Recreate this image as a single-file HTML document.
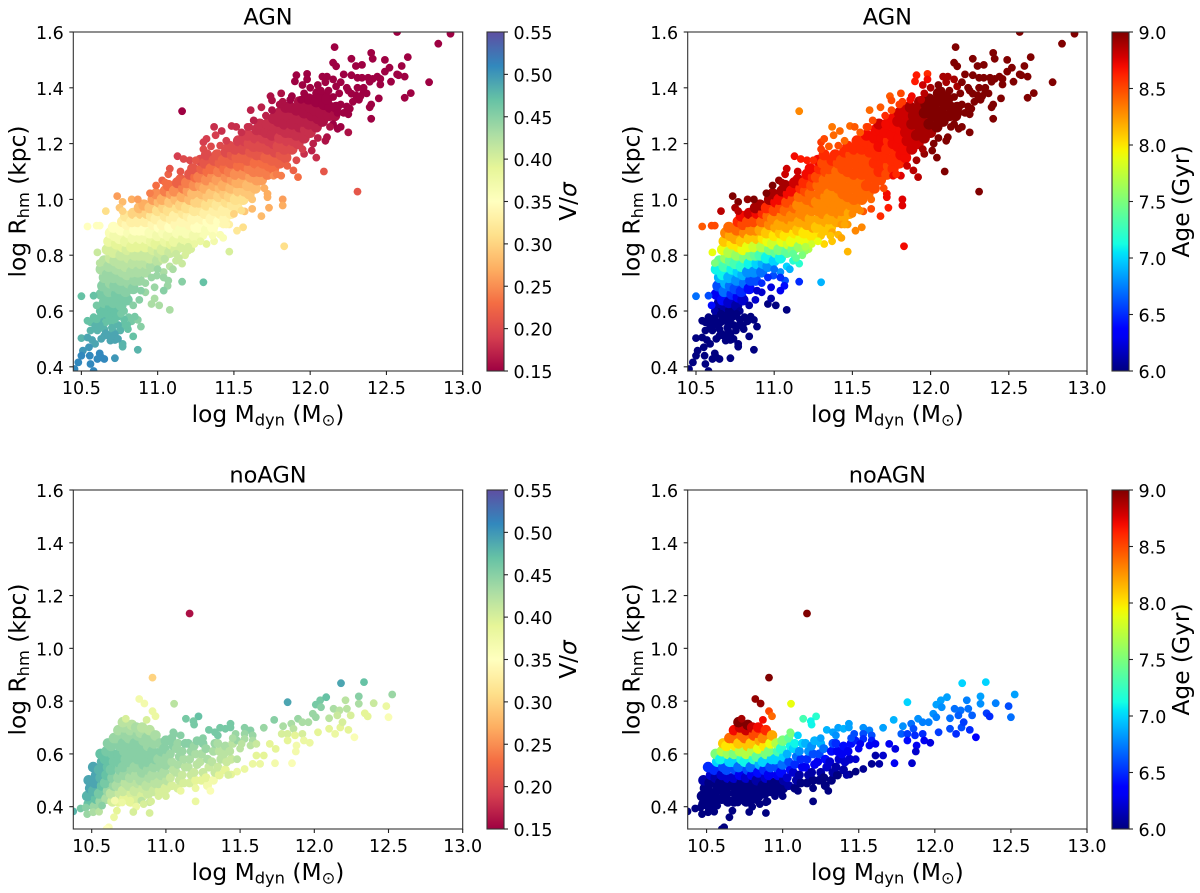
<!DOCTYPE html>
<html>
<head>
<meta charset="utf-8">
<title>AGN and noAGN size-mass scatter panels</title>
<style>
html,body{margin:0;padding:0;background:#fff;}
svg{display:block;}
text{font-family:"DejaVu Sans","Liberation Sans",sans-serif;fill:#000;}
</style>
</head>
<body>
<svg id="figure" width="1200" height="893" viewBox="0 0 1200 893" xmlns="http://www.w3.org/2000/svg"></svg>
<script>
const xTicks = [10.5, 11.0, 11.5, 12.0, 12.5, 13.0];
const yTicks = [0.4, 0.6, 0.8, 1.0, 1.2, 1.4, 1.6];
const vsigTicks = [0.15, 0.20, 0.25, 0.30, 0.35, 0.40, 0.45, 0.50, 0.55];
const ageTicks = [6.0, 6.5, 7.0, 7.5, 8.0, 8.5, 9.0];

const agnMass = [
10.64,10.65,10.63,10.64,10.65,10.63,10.65,
10.68,10.69,10.67,10.68,10.69,10.67,10.68,10.69,10.67,10.68,10.69,
10.72,10.71,10.73,10.72,10.71,10.73,10.72,10.71,10.73,10.72,10.71,
10.76,10.77,10.75,10.76,10.77,10.75,10.76,10.77,10.75,10.76,10.77,
10.80,10.79,10.81,10.80,10.79,10.81,10.80,10.79,10.81,10.80,10.79,
10.84,10.85,10.83,10.84,10.85,10.83,10.84,10.85,10.83,10.84,
10.88,10.87,10.89,10.88,10.87,10.89,10.88,10.87,10.89,10.88,
10.92,10.93,10.91,10.92,10.93,10.91,10.92,10.93,10.91,
10.96,10.95,10.97,10.96,10.95,10.97,10.96,10.95,10.97,
11.00,11.01,10.99,11.00,11.01,10.99,11.00,11.01,10.99,
11.04,11.03,11.05,11.04,11.03,11.05,11.04,11.03,11.05,
11.08,11.09,11.07,11.08,11.09,11.07,11.08,11.09,11.07,
11.12,11.11,11.13,11.12,11.11,11.13,11.12,11.11,11.13,
11.16,11.17,11.15,11.16,11.17,11.15,11.16,11.17,11.15,
11.20,11.19,11.21,11.20,11.19,11.21,11.20,11.19,11.21,
11.24,11.25,11.23,11.24,11.25,11.23,11.24,11.25,11.23,
11.28,11.27,11.29,11.28,11.27,11.29,11.28,11.27,11.29,11.28,
11.32,11.33,11.31,11.32,11.33,11.31,11.32,11.33,11.31,11.32,
11.36,11.35,11.37,11.36,11.35,11.37,11.36,11.35,11.37,
11.40,11.41,11.39,11.40,11.41,11.39,11.40,11.41,11.39,
11.44,11.43,11.45,11.44,11.43,11.45,11.44,11.43,11.45,
11.48,11.49,11.47,11.48,11.49,11.47,11.48,11.49,11.47,
11.52,11.51,11.53,11.52,11.51,11.53,11.52,11.51,11.53,
11.56,11.57,11.55,11.56,11.57,11.55,11.56,11.57,
11.60,11.59,11.61,11.60,11.59,11.61,11.60,11.59,
11.64,11.65,11.63,11.64,11.65,11.63,11.64,11.65,
11.68,11.67,11.69,11.68,11.67,11.69,11.68,11.67,
11.72,11.73,11.71,11.72,11.73,11.71,11.72,
11.76,11.75,11.77,11.76,11.75,11.77,11.76,
11.80,11.81,11.79,11.80,11.81,11.79,11.80,
11.84,11.83,11.85,11.84,11.83,11.85,11.84,
11.88,11.89,11.87,11.88,11.89,11.87,
11.92,11.91,11.93,11.92,11.91,11.93,
11.96,11.97,11.95,11.96,11.97,
12.00,11.99,12.01,12.00,11.99,
12.04,12.05,12.03,12.04,12.05,
12.08,12.07,12.09,12.08,
12.12,12.13,12.11,
12.16,12.17,
12.57,12.92,12.84,12.16,12.27,12.40,12.41,12.49,12.64,12.15,
12.17,12.30,12.34,12.49,12.52,12.60,12.57,12.53,12.58,12.62,
12.78,12.66,12.62,12.45,12.22,12.27,12.31,12.34,12.38,12.41,
12.44,12.46,12.46,12.39,12.35,12.35,12.30,12.25,12.27,12.32,
12.40,12.39,12.40,12.33,12.24,12.17,12.15,12.11,12.08,12.10,
11.98,11.91,11.90,11.98,11.95,11.81,11.74,11.75,11.82,11.61,
11.68,11.16,11.87,11.94,11.96,12.07,12.15,12.19,12.24,12.26,
12.25,12.20,12.25,12.15,12.18,12.11,12.10,12.02,12.01,12.04,
11.96,12.09,12.31,11.92,11.89,11.91,11.81,11.76,11.82,11.82,
11.73,11.68,11.72,11.72,11.62,11.57,11.56,11.52,11.50,11.47,
11.43,11.37,11.41,11.43,11.37,11.32,11.47,11.83,11.30,11.22,
11.20,11.16,11.12,11.16,11.30,11.07,11.065,11.04,11.08,11.01,
10.96,10.98,10.98,10.92,10.89,10.995,11.045,10.50,10.58,10.58,
10.54,10.56,10.62,10.68,10.59,10.64,10.605,10.65,10.705,10.77,
10.81,10.83,10.87,10.89,10.755,10.805,10.68,10.72,10.50,10.54,
10.57,10.59,10.65,10.69,10.72,10.77,10.77,10.84,10.87,10.55,
10.51,10.50,10.48,10.555,10.56,10.62,10.605,10.65,10.72,10.455,
10.58,10.63,10.605,10.62,10.54,10.60,10.62,10.66,10.735,10.77,
10.75,10.77,10.83,10.87,10.95,10.99,11.03,11.07,11.08,11.13,
11.17,11.21,11.30,11.32,11.30,11.37,11.38,11.42,11.485,11.515,
11.59,11.41,11.63,11.71,10.62,10.60,10.66,10.70,10.74,10.78,
10.84,10.88,10.92,10.96,11.04,11.08,11.12,11.18,11.24,11.28,
10.62,10.66,10.70,10.74,10.78,10.80,10.85,10.60,10.66,10.72,
10.76,10.70,10.63,10.74,10.56,11.00,11.04,11.10,11.20,11.14,
11.36,11.45,11.55,11.62,11.70,11.78,11.85,11.95,12.05,12.13,
12.12,12.20,12.22,12.18,12.05,12.00,12.20,12.28,12.31,12.37,
11.60,11.55,11.75,11.80,11.88,11.45,11.35,11.25,11.15,11.05
];
const agnRadius = [
.60,.63,.66,.69,.72,.75,.78,
.58,.61,.64,.67,.70,.73,.76,.79,.82,.85,.88,
.60,.63,.66,.69,.72,.75,.78,.81,.84,.87,.90,
.62,.65,.68,.71,.74,.77,.80,.83,.86,.89,.92,
.64,.67,.70,.73,.76,.79,.82,.85,.88,.91,.94,
.68,.71,.74,.77,.80,.83,.86,.89,.92,.95,
.71,.74,.77,.80,.83,.86,.89,.92,.95,.97,
.74,.77,.80,.83,.86,.89,.92,.95,.98,
.76,.79,.82,.85,.88,.91,.94,.97,1.00,
.78,.81,.84,.87,.90,.93,.96,.99,1.02,
.79,.82,.85,.88,.91,.94,.97,1.00,1.03,
.81,.84,.87,.90,.93,.96,.99,1.02,1.05,
.82,.85,.88,.91,.94,.97,1.00,1.03,1.06,
.83,.86,.89,.92,.95,.98,1.01,1.04,1.07,
.85,.88,.91,.94,.97,1.00,1.03,1.06,1.09,
.87,.90,.93,.96,.99,1.02,1.05,1.08,1.11,
.87,.90,.93,.96,.99,1.02,1.05,1.08,1.11,1.14,
.89,.92,.95,.98,1.01,1.04,1.07,1.10,1.13,1.16,
.90,.93,.96,.99,1.02,1.05,1.08,1.11,1.14,
.92,.95,.98,1.01,1.04,1.07,1.10,1.13,1.16,
.93,.96,.99,1.02,1.05,1.08,1.11,1.14,1.17,
.95,.98,1.01,1.04,1.07,1.10,1.13,1.16,1.19,
.97,1.00,1.03,1.06,1.09,1.12,1.15,1.18,1.21,
1.00,1.03,1.06,1.09,1.12,1.15,1.18,1.21,
1.02,1.05,1.08,1.11,1.14,1.17,1.20,1.23,
1.04,1.07,1.10,1.13,1.16,1.19,1.22,1.25,
1.07,1.10,1.13,1.16,1.19,1.22,1.25,1.27,
1.09,1.12,1.15,1.18,1.21,1.24,1.27,
1.11,1.14,1.17,1.20,1.23,1.26,1.29,
1.13,1.16,1.19,1.22,1.25,1.28,1.31,
1.15,1.18,1.21,1.24,1.27,1.30,1.33,
1.18,1.21,1.24,1.27,1.30,1.33,
1.20,1.23,1.26,1.29,1.32,1.35,
1.22,1.25,1.28,1.31,1.34,
1.24,1.27,1.30,1.33,1.36,
1.26,1.29,1.32,1.35,1.38,
1.28,1.31,1.34,1.37,
1.30,1.33,1.36,
1.30,1.33,
1.60,1.594,1.558,1.546,1.504,1.525,1.504,1.50,1.51,1.49,
1.477,1.478,1.482,1.458,1.472,1.478,1.448,1.422,1.445,1.44,
1.42,1.381,1.364,1.362,1.448,1.445,1.436,1.436,1.436,1.432,
1.44,1.432,1.412,1.422,1.40,1.385,1.373,1.39,1.379,1.357,
1.34,1.33,1.289,1.37,1.40,1.405,1.43,1.44,1.44,1.42,
1.45,1.445,1.423,1.43,1.41,1.38,1.37,1.355,1.35,1.32,
1.33,1.316,1.357,1.357,1.38,1.39,1.367,1.38,1.333,1.325,
1.305,1.26,1.24,1.27,1.253,1.223,1.21,1.20,1.175,1.15,
1.163,1.10,1.028,1.08,1.104,1.14,1.085,1.085,1.00,.978,
.97,.94,1.008,1.02,.966,.957,.90,.888,.948,.91,
.91,.883,.873,.862,.85,.84,.813,.832,.87,.822,
.816,.77,.805,.705,.703,.709,.69,.673,.604,.62,
.625,.645,.685,.667,.673,.727,.787,.653,.655,.578,
.565,.56,.578,.583,.547,.56,.53,.535,.53,.547,
.578,.563,.568,.544,.53,.535,.511,.517,.503,.505,
.496,.482,.511,.494,.496,.482,.472,.509,.461,.47,
.458,.44,.416,.44,.41,.448,.428,.428,.431,.392,
.385,.434,.81,.772,.903,.906,.906,.958,1.012,.991,
.97,.958,1.0,1.0,1.022,1.05,1.068,1.09,1.11,1.155,
1.145,1.14,1.205,1.217,1.18,1.26,1.23,1.245,1.263,1.26,
1.26,1.193,1.283,1.30,.60,.62,.56,.56,.58,.60,
.62,.64,.70,.72,.74,.76,.78,.80,.84,.85,
.55,.52,.54,.55,.57,.55,.58,.57,.59,.57,
.59,.51,.50,.50,.53,.75,.72,.75,.83,.79,
.87,.91,.96,1.00,1.04,1.09,1.12,1.18,1.22,1.26,
1.39,1.34,1.31,1.31,1.41,1.40,1.42,1.35,1.40,1.38,
1.26,1.24,1.32,1.34,1.37,1.21,1.19,1.14,1.10,1.06
];
const agnVsig = [
.47,.46,.46,.45,.44,.43,.42,
.48,.47,.46,.45,.44,.44,.43,.41,.40,.38,.36,
.47,.46,.46,.45,.44,.43,.42,.40,.39,.37,.35,
.46,.46,.45,.44,.43,.42,.41,.39,.37,.35,.33,
.46,.45,.44,.43,.42,.41,.40,.38,.36,.34,.32,
.45,.44,.43,.42,.41,.39,.37,.35,.33,.30,
.44,.43,.42,.41,.39,.37,.35,.33,.30,.28,
.43,.42,.41,.39,.37,.35,.33,.30,.27,
.43,.41,.40,.38,.36,.34,.32,.29,.26,
.42,.41,.39,.37,.35,.33,.31,.28,.25,
.41,.40,.38,.36,.34,.32,.30,.27,.24,
.41,.39,.37,.35,.33,.31,.29,.26,.23,
.40,.38,.36,.34,.33,.31,.28,.25,.22,
.40,.38,.36,.34,.32,.30,.27,.24,.22,
.38,.36,.34,.33,.31,.28,.26,.24,.21,
.37,.35,.34,.32,.30,.28,.25,.23,.21,
.37,.35,.34,.32,.30,.28,.26,.24,.22,.20,
.36,.35,.33,.31,.29,.27,.25,.23,.21,.20,
.35,.34,.33,.31,.29,.27,.25,.23,.21,
.35,.33,.32,.30,.28,.26,.24,.22,.21,
.34,.33,.31,.29,.27,.25,.23,.22,.20,
.33,.32,.30,.28,.26,.24,.22,.21,.20,
.32,.31,.29,.27,.25,.23,.22,.20,.19,
.31,.29,.27,.25,.23,.22,.20,.19,
.29,.28,.26,.24,.22,.21,.20,.19,
.28,.26,.24,.23,.21,.20,.19,.18,
.26,.24,.23,.21,.20,.19,.18,.18,
.24,.23,.22,.20,.19,.18,.18,
.23,.22,.20,.19,.18,.18,.17,
.22,.21,.20,.19,.18,.17,.17,
.21,.20,.19,.18,.17,.17,.16,
.20,.19,.18,.17,.17,.16,
.19,.18,.17,.17,.16,.16,
.18,.18,.17,.16,.16,
.18,.17,.16,.16,.15,
.17,.16,.16,.15,.15,
.16,.16,.15,.15,
.16,.15,.15,
.16,.15,
.15,.15,.15,.15,.15,.15,.15,.15,.15,.15,
.15,.15,.15,.15,.15,.15,.15,.15,.15,.15,
.15,.15,.15,.15,.15,.15,.15,.15,.15,.15,
.15,.15,.15,.15,.15,.15,.15,.15,.15,.15,
.15,.15,.15,.15,.15,.15,.15,.15,.15,.15,
.15,.15,.15,.15,.15,.16,.16,.16,.16,.17,
.17,.15,.15,.15,.15,.15,.15,.15,.15,.15,
.15,.15,.16,.15,.15,.16,.16,.17,.17,.18,
.18,.21,.21,.23,.22,.20,.24,.25,.26,.27,
.27,.28,.27,.27,.28,.29,.31,.32,.30,.33,
.34,.35,.36,.36,.37,.39,.40,.31,.36,.40,
.40,.41,.41,.45,.47,.44,.44,.45,.43,.43,
.43,.43,.44,.44,.45,.44,.42,.47,.47,.47,
.47,.47,.47,.47,.48,.48,.48,.48,.48,.47,
.46,.46,.45,.45,.48,.47,.49,.49,.48,.49,
.49,.49,.49,.49,.49,.48,.48,.47,.48,.50,
.50,.51,.51,.51,.51,.51,.51,.51,.50,.51,
.51,.51,.41,.42,.35,.35,.35,.31,.26,.28,
.29,.30,.27,.26,.24,.23,.22,.22,.21,.19,
.20,.20,.19,.19,.20,.18,.19,.18,.18,.18,
.18,.20,.17,.17,.47,.46,.47,.47,.47,.46,
.45,.45,.44,.44,.43,.42,.41,.40,.38,.38,
.48,.49,.48,.48,.47,.47,.46,.47,.47,.47,
.46,.49,.49,.49,.48,.44,.44,.43,.40,.41,
.36,.34,.31,.29,.27,.24,.22,.19,.17,.16,
.15,.15,.15,.15,.15,.15,.15,.15,.15,.15,
.18,.18,.16,.16,.15,.19,.20,.21,.21,.23
];
const agnAge = [
6.0,6.1,6.3,6.6,6.9,7.1,7.4,
6.0,6.1,6.4,6.7,6.9,7.1,7.3,7.6,7.9,8.1,8.3,
6.0,6.2,6.5,6.7,6.9,7.1,7.4,7.7,8.0,8.2,8.4,
6.1,6.3,6.6,6.8,7.0,7.3,7.6,8.0,8.2,8.4,8.6,
6.2,6.5,6.7,6.9,7.2,7.5,7.9,8.1,8.3,8.5,8.7,
6.4,6.6,6.8,7.1,7.5,7.9,8.1,8.3,8.5,8.8,
6.6,6.8,7.0,7.4,7.8,8.1,8.3,8.5,8.7,8.9,
6.7,6.9,7.3,7.7,8.0,8.2,8.4,8.6,8.9,
6.8,7.1,7.5,7.9,8.1,8.3,8.4,8.6,8.9,
7.0,7.4,7.8,8.0,8.2,8.3,8.5,8.7,8.9,
7.1,7.5,7.9,8.1,8.2,8.3,8.5,8.7,8.9,
7.4,7.8,8.0,8.2,8.3,8.4,8.5,8.7,8.9,
7.5,7.9,8.0,8.2,8.3,8.4,8.5,8.7,8.8,
7.6,7.9,8.1,8.2,8.3,8.3,8.4,8.6,8.8,
7.9,8.0,8.2,8.3,8.3,8.4,8.5,8.6,8.7,
8.0,8.2,8.2,8.3,8.4,8.4,8.5,8.6,8.7,
8.0,8.1,8.2,8.3,8.3,8.4,8.4,8.5,8.6,8.7,
8.1,8.2,8.3,8.3,8.3,8.4,8.4,8.5,8.5,8.6,
8.1,8.2,8.3,8.3,8.3,8.4,8.4,8.5,8.6,
8.2,8.3,8.3,8.3,8.4,8.4,8.4,8.5,8.6,
8.2,8.3,8.3,8.4,8.4,8.4,8.5,8.5,8.6,
8.2,8.3,8.4,8.4,8.4,8.5,8.5,8.5,8.6,
8.3,8.4,8.4,8.4,8.5,8.5,8.5,8.6,8.6,
8.4,8.4,8.4,8.5,8.5,8.5,8.6,8.6,
8.4,8.5,8.5,8.5,8.5,8.6,8.6,8.7,
8.5,8.5,8.5,8.6,8.6,8.6,8.7,8.7,
8.5,8.6,8.6,8.6,8.7,8.7,8.7,8.8,
8.5,8.5,8.6,8.6,8.6,8.7,8.7,
8.6,8.6,8.6,8.7,8.7,8.7,8.7,
8.6,8.7,8.7,8.7,8.7,8.8,8.8,
8.7,8.7,8.8,8.8,8.8,8.8,8.8,
8.8,8.8,8.8,8.9,8.9,8.9,
8.8,8.9,8.9,8.9,8.9,8.9,
8.9,8.9,8.9,9,9,
8.9,9,9,9,9,
9,9,9,9,9,
9,9,9,9,
9,9,9,
9,9,
9,9,9,9,9,9,9,9,9,9,
9,9,9,9,9,9,9,9,9,9,
9,9,9,9,9,9,9,9,9,9,
9,9,9,9,9,9,9,9,9,9,
9,9,9,9,9,8.9,8.9,8.9,8.9,8.9,
8.6,8.65,8.65,8.7,8.8,8.5,8.45,8.5,8.55,8.4,
8.45,8.3,8.7,8.85,8.85,9,9,9,9,9,
9,9,9,9,9,9,9,9,9,9,
8.95,9,9,8.85,8.85,8.9,8.75,8.7,8.75,8.75,
8.65,8.6,8.7,8.7,8.5,8.45,8.3,8.3,8.3,8.25,
8.25,8.2,8.15,8.2,8.1,8.05,8.15,8.7,8.1,7.7,
7.6,7.2,7.4,6.5,6.9,6.6,6.4,6.3,6.0,6.0,
6,6.1,6.25,6.2,6.2,6.6,7.1,6.7,6.6,6.0,
6,6,6,6,6,6,6,6,6,6,
6,6,6,6,6,6,6,6,6,6,
6,6,6,6,6,6,6,6,6,6,
6,6,6,6,6,6,6,6,6,6,
6,6,7.9,7.5,8.45,8.5,8.5,8.85,9,9,
8.9,8.85,8.95,9,9,9,8.95,8.8,8.8,8.7,
8.65,8.65,8.55,8.5,8.55,8.35,8.4,8.4,8.4,8.45,
8.5,8.5,8.5,8.6,6.1,6.4,6,6,6,6.05,
6.1,6.2,6.5,6.5,6.8,7,7.2,7.5,7.8,7.9,
6,6,6,6,6,6,6,6,6,6,
6,6,6,6,6,6.7,6.5,6.9,7.7,7.4,
8.1,8.2,8.3,8.4,8.5,8.6,8.8,8.9,9,9,
9,9,9,9,9,8.9,9,9,9,9,
8.55,8.45,8.5,8.55,8.7,8.4,8.45,8.6,8.8,8.9
];

const noagnMass = [
10.48,10.47,10.49,10.48,
10.52,10.53,10.51,10.52,10.53,10.51,
10.56,10.55,10.57,10.56,10.55,10.57,10.56,
10.60,10.61,10.59,10.60,10.61,10.59,10.60,10.61,
10.64,10.63,10.65,10.64,10.63,10.65,10.64,10.63,10.65,
10.68,10.69,10.67,10.68,10.69,10.67,10.68,10.69,10.67,10.68,
10.72,10.71,10.73,10.72,10.71,10.73,10.72,10.71,10.73,10.72,10.71,
10.76,10.77,10.75,10.76,10.77,10.75,10.76,10.77,10.75,10.76,10.77,
10.80,10.79,10.81,10.80,10.79,10.81,10.80,10.79,10.81,10.80,
10.84,10.85,10.83,10.84,10.85,10.83,10.84,10.85,10.83,10.84,
10.88,10.87,10.89,10.88,10.87,10.89,10.88,10.87,10.89,
10.92,10.93,10.91,10.92,10.93,10.91,10.92,10.93,
10.96,10.95,10.97,10.96,10.95,10.97,10.96,
11.00,11.01,10.99,11.00,11.01,10.99,11.00,
11.04,11.03,11.05,11.04,11.03,11.05,11.04,
11.08,11.09,11.07,11.08,11.09,11.07,11.08,
11.12,11.11,11.13,11.12,11.11,11.13,
11.16,11.17,11.15,11.16,11.17,11.15,
11.20,11.19,11.21,11.20,11.19,11.21,
11.24,11.25,11.23,11.24,11.25,
11.28,11.27,11.29,11.28,11.27,
11.32,11.33,11.31,11.32,11.33,
11.36,11.35,11.37,11.36,11.35,
11.40,11.41,11.39,11.40,
11.44,11.43,11.45,
11.16,10.91,10.82,10.855,10.91,10.93,11.055,11.135,11.22,11.185,
11.19,10.87,10.73,11.05,11.055,11.29,11.33,11.365,11.40,11.435,
11.435,11.53,11.57,11.53,11.585,11.47,11.48,11.53,11.585,11.51,
11.57,11.61,11.66,11.73,11.79,11.82,11.78,11.845,11.86,11.82,
11.82,11.87,11.92,11.88,11.875,11.93,11.97,11.74,11.70,11.735,
11.85,11.66,11.61,11.635,11.585,11.53,11.48,11.44,11.89,11.92,
11.96,11.99,12.01,12.04,12.01,12.08,12.045,12.10,12.025,12.10,
12.14,12.175,12.13,12.17,12.21,12.22,12.155,12.245,12.19,12.23,
12.27,12.18,12.335,12.30,12.30,12.40,12.34,12.36,12.485,12.50,
12.525,11.20,10.375,10.425,10.46,10.47,10.51,10.55,10.57,10.67,
10.65,10.615,10.60,10.89,10.80,10.835,10.89,10.705,10.655,10.76,
10.95,11.00,10.90,10.85,10.78,11.10,11.20,11.30,11.10,11.25,
11.35,11.45,11.48,11.50,11.42
];
const noagnRadius = [
.41,.44,.47,.50,
.40,.43,.46,.49,.52,.55,
.42,.45,.48,.51,.54,.57,.60,
.43,.46,.49,.52,.55,.58,.61,.64,
.42,.45,.48,.51,.54,.57,.60,.63,.66,
.42,.45,.48,.51,.54,.57,.60,.63,.66,.69,
.43,.46,.49,.52,.55,.58,.61,.64,.67,.70,.72,
.42,.45,.48,.51,.54,.57,.60,.63,.66,.69,.71,
.43,.46,.49,.52,.55,.58,.61,.64,.67,.70,
.44,.47,.50,.53,.56,.59,.62,.65,.68,.70,
.45,.48,.51,.54,.57,.60,.63,.66,.69,
.46,.49,.52,.55,.58,.61,.64,.67,
.46,.49,.52,.55,.58,.61,.64,
.47,.50,.53,.56,.59,.62,.65,
.48,.51,.54,.57,.60,.63,.66,
.47,.50,.53,.56,.59,.62,.64,
.49,.52,.55,.58,.61,.64,
.49,.52,.55,.58,.61,.64,
.50,.53,.56,.60,.63,.65,
.50,.53,.57,.60,.64,
.48,.51,.55,.58,.62,
.50,.53,.57,.61,.64,
.52,.55,.58,.61,.64,
.54,.57,.60,.63,
.58,.61,.64,
1.132,.889,.808,.791,.762,.743,.79,.733,.742,.724,
.711,.729,.733,.682,.676,.691,.682,.699,.695,.714,
.70,.699,.689,.676,.67,.676,.651,.657,.651,.638,
.632,.638,.699,.729,.705,.796,.676,.714,.695,.676,
.651,.67,.676,.632,.609,.651,.642,.619,.638,.565,
.565,.594,.594,.562,.562,.543,.533,.522,.733,.72,
.72,.752,.739,.803,.787,.815,.777,.735,.682,.695,
.676,.70,.771,.765,.803,.771,.746,.746,.72,.691,
.663,.868,.872,.818,.79,.792,.754,.742,.781,.739,
.825,.42,.382,.393,.397,.372,.379,.381,.404,.385,
.36,.322,.315,.376,.40,.423,.417,.416,.423,.423,
.44,.44,.42,.41,.38,.46,.47,.46,.67,.66,
.67,.66,.58,.62,.52
];
const noagnVsig = [
.47,.48,.49,.49,
.44,.47,.48,.49,.49,.49,
.44,.46,.47,.48,.48,.48,.47,
.43,.44,.46,.47,.47,.47,.46,.45,
.40,.42,.44,.45,.46,.46,.46,.45,.44,
.39,.41,.43,.44,.45,.46,.46,.45,.44,.43,
.39,.41,.42,.44,.45,.45,.45,.45,.44,.43,.42,
.39,.40,.42,.43,.44,.45,.45,.45,.44,.43,.42,
.40,.41,.42,.43,.44,.45,.45,.45,.44,.43,
.40,.41,.43,.44,.45,.45,.45,.44,.43,.42,
.41,.42,.43,.44,.45,.45,.44,.44,.42,
.41,.42,.43,.44,.45,.45,.44,.43,
.40,.42,.43,.44,.44,.45,.44,
.40,.42,.43,.44,.44,.45,.45,
.40,.41,.42,.43,.44,.45,.45,
.40,.41,.42,.43,.44,.44,.44,
.40,.41,.42,.43,.44,.45,
.40,.41,.42,.43,.44,.45,
.39,.41,.42,.43,.44,.45,
.39,.41,.42,.43,.45,
.37,.39,.41,.43,.44,
.37,.41,.42,.43,.44,
.39,.41,.42,.42,.43,
.39,.41,.42,.43,
.41,.42,.42,
.16,.30,.37,.37,.38,.38,.42,.46,.47,.46,
.46,.40,.40,.45,.45,.46,.46,.46,.46,.46,
.46,.45,.45,.44,.44,.44,.44,.43,.43,.42,
.42,.41,.44,.45,.43,.49,.40,.43,.42,.40,
.39,.39,.40,.37,.37,.38,.38,.39,.39,.37,
.36,.39,.39,.38,.38,.38,.38,.39,.44,.43,
.43,.44,.44,.46,.46,.47,.45,.42,.39,.39,
.38,.39,.43,.42,.42,.42,.41,.40,.40,.39,
.36,.49,.47,.45,.43,.41,.39,.39,.38,.36,
.44,.38,.48,.46,.45,.44,.43,.42,.45,.39,
.38,.36,.35,.40,.38,.42,.41,.38,.37,.39,
.40,.40,.40,.40,.40,.38,.38,.36,.45,.45,
.46,.43,.42,.42,.40
];
const noagnAge = [
6,6,6,6.1,
6,6,6,6,6.2,6.5,
6,6,6,6.1,6.5,7,7.5,
6,6,6,6.2,6.6,7.1,7.7,8.1,
6,6,6,6.2,6.6,7,7.6,8,8.4,
6,6,6,6.2,6.6,7,7.5,8,8.4,8.7,
6,6,6,6.3,6.7,7.2,7.7,8.1,8.4,8.8,9,
6,6,6,6.2,6.6,7.1,7.7,8.1,8.4,8.8,9,
6,6,6,6.3,6.7,7.2,7.7,8.1,8.5,8.8,
6,6,6.1,6.4,6.9,7.4,7.9,8.2,8.5,8.7,
6,6,6.2,6.5,7,7.5,8,8.3,8.6,
6,6,6.3,6.6,7,7.5,7.9,8.2,
6,6,6.3,6.6,7,7.3,7.7,
6,6.1,6.4,6.7,7,7.2,7.5,
6.1,6.2,6.4,6.6,6.9,7.1,7.4,
6,6.1,6.2,6.5,6.7,7,7.1,
6,6.1,6.3,6.5,6.8,7,
6,6.1,6.3,6.5,6.8,6.9,
6,6.1,6.3,6.6,6.8,6.9,
6,6.1,6.3,6.6,6.9,
6,6,6.2,6.4,6.7,
6,6.1,6.2,6.4,6.6,
6,6.1,6.2,6.3,6.5,
6.1,6.2,6.3,6.4,
6.2,6.3,6.4,
9,9,8.95,8.95,8.5,8.4,7.9,7.3,7.2,7.1,
7.1,8.7,8.9,7.5,7.5,6.9,6.85,6.85,6.9,6.85,
6.85,6.8,6.75,6.6,6.6,6.6,6.45,6.5,6.45,6.3,
6.3,6.3,6.85,6.9,6.8,7.0,6.65,6.7,6.6,6.55,
6.4,6.5,6.5,6.3,6.2,6.3,6.25,6.25,6.3,6.3,
6.2,6.2,6.1,6.1,6.05,6.05,6,6,6.8,6.75,
6.75,6.8,6.75,6.85,6.85,6.85,6.8,6.7,6.55,6.6,
6.5,6.6,6.7,6.7,6.75,6.7,6.65,6.65,6.55,6.5,
6.35,7,7,6.85,6.8,6.75,6.55,6.5,6.6,6.7,
6.85,6,6,6,6,6,6,6,6,6,
6,6,6,6,6,6,6,6,6,6,
6,6,6,6,6,6,6,6,7,6.85,
6.8,6.6,6.2,6.3,6.1
];

const svgNS = 'http://www.w3.org/2000/svg';
const figure = document.getElementById('figure');
const spectralStops = ['#9e0142','#d53e4f','#f46d43','#fdae61','#fee08b','#ffffbf','#e6f598','#abdda4','#66c2a5','#3288bd','#5e4fa2'];

function hexToRgb(h){
  return [parseInt(h.slice(1,3),16),parseInt(h.slice(3,5),16),parseInt(h.slice(5,7),16)];
}
function spectral(t){
  t = Math.max(0,Math.min(1,t));
  const p = t*(spectralStops.length-1);
  const i = Math.min(Math.floor(p),spectralStops.length-2);
  const f = p-i;
  const a = hexToRgb(spectralStops[i]);
  const b = hexToRgb(spectralStops[i+1]);
  return 'rgb('+[0,1,2].map(k=>Math.round(a[k]+(b[k]-a[k])*f)).join(',')+')';
}
function ramp(t,pts){
  for(let i=1;i<pts.length;i++){
    if(t<=pts[i][0]){
      const f=(t-pts[i-1][0])/(pts[i][0]-pts[i-1][0]);
      return pts[i-1][1]+(pts[i][1]-pts[i-1][1])*f;
    }
  }
  return pts[pts.length-1][1];
}
function jet(t){
  t = Math.max(0,Math.min(1,t));
  const r = ramp(t,[[0,0],[.35,0],[.66,1],[.89,1],[1,.5]]);
  const g = ramp(t,[[0,0],[.125,0],[.375,1],[.64,1],[.91,0],[1,0]]);
  const b = ramp(t,[[0,.5],[.11,1],[.34,1],[.65,0],[1,0]]);
  return 'rgb('+Math.round(r*255)+','+Math.round(g*255)+','+Math.round(b*255)+')';
}
function make(tag,attrs,parent){
  const el = document.createElementNS(svgNS,tag);
  for(const k in attrs){ el.setAttribute(k,attrs[k]); }
  parent.appendChild(el);
  return el;
}
function addSpan(parent,str,size,dy,style){
  const s = make('tspan',{},parent);
  if(size){ s.setAttribute('font-size',size); }
  if(dy){ s.setAttribute('dy',dy); }
  if(style){ s.setAttribute('font-style',style); }
  s.textContent = str;
  return s;
}
const defs = make('defs',{},figure);

function pointRadius(cfg,i){
  if(i<cfg.coreCount){ return cfg.coreRadius; }
  if(i<cfg.bandCount){ return cfg.bandRadius; }
  return 3.9;
}

function drawPanel(cfg){
  const g = make('g',{},figure);
  
  
  const sx = v => cfg.left+(v-cfg.xlim[0])/(cfg.xlim[1]-cfg.xlim[0])*(cfg.right-cfg.left);
  const sy = v => cfg.bottom-(v-cfg.ylim[0])/(cfg.ylim[1]-cfg.ylim[0])*(cfg.bottom-cfg.top);
  const clip = make('clipPath',{id:cfg.id+'-clip'},defs);
  make('rect',{x:cfg.left,y:cfg.top,width:cfg.right-cfg.left,height:cfg.bottom-cfg.top},clip);

  const marks = make('g',{'clip-path':'url(#'+cfg.id+'-clip)'},g);
  
  
  const n = Math.min(cfg.xs.length,cfg.ys.length,cfg.cs.length);
  for(let i=0;i<n;i++){
    const c = make('circle',{cx:sx(cfg.xs[i]).toFixed(1),cy:sy(cfg.ys[i]).toFixed(1),r:pointRadius(cfg,i),fill:cfg.cmap((cfg.cs[i]-cfg.clim[0])/(cfg.clim[1]-cfg.clim[0]))},marks);
    
    
  }

  const frame = make('rect',{x:cfg.left,y:cfg.top,width:cfg.right-cfg.left,height:cfg.bottom-cfg.top,fill:'none',stroke:'#333','stroke-width':1.1},g);
  
  

  xTicks.forEach(t=>{
    const x = sx(t);
    const tick = make('line',{x1:x,x2:x,y1:cfg.bottom,y2:cfg.bottom+4,stroke:'#222','stroke-width':1.1},g);
    
    
    const lab = make('text',{x:x,y:cfg.bottom+23,'font-size':17.5,'text-anchor':'middle'},g);
    
    
    lab.textContent = t.toFixed(1);
  });
  yTicks.forEach(t=>{
    const y = sy(t);
    const tick = make('line',{x1:cfg.left-4,x2:cfg.left,y1:y,y2:y,stroke:'#222','stroke-width':1.1},g);
    
    
    const lab = make('text',{x:cfg.left-9.5,y:y+7,'font-size':17.5,'text-anchor':'end'},g);
    
    
    lab.textContent = t.toFixed(1);
  });

  const title = make('text',{x:(cfg.left+cfg.right)/2,y:cfg.top-7.5,'font-size':22.5,'text-anchor':'middle'},g);
  
  
  title.textContent = cfg.title;

  const xl = make('text',{x:(cfg.left+cfg.right)/2,y:cfg.bottom+51,'font-size':23.3,'text-anchor':'middle'},g);
  
  
  addSpan(xl,'log M');
  addSpan(xl,'dyn',16.3,3.5);
  addSpan(xl,' (M',null,-3.5);
  addSpan(xl,'\u2299',16.3,3.5);
  addSpan(xl,')',null,-3.5);

  const ymid = (cfg.top+cfg.bottom)/2;
  const yl = make('text',{x:cfg.left-48,y:ymid,'font-size':23.3,'text-anchor':'middle',transform:'rotate(-90 '+(cfg.left-48)+' '+ymid+')'},g);
  
  
  addSpan(yl,'log R');
  addSpan(yl,'hm',16.3,3.5);
  addSpan(yl,' (kpc)',null,-3.5);

  const gradId = cfg.id+'-grad';
  const grad = make('linearGradient',{id:gradId,x1:0,y1:1,x2:0,y2:0},defs);
  for(let i=0;i<=40;i++){
    make('stop',{offset:i/40,'stop-color':cfg.cmap(i/40)},grad);
  }
  const bar = make('rect',{x:cfg.cbLeft,y:cfg.top,width:cfg.cbRight-cfg.cbLeft,height:cfg.bottom-cfg.top,fill:'url(#'+gradId+')',stroke:'#333','stroke-width':1.1},g);
  
  
  cfg.cTicks.forEach(t=>{
    const y = cfg.bottom-(t-cfg.clim[0])/(cfg.clim[1]-cfg.clim[0])*(cfg.bottom-cfg.top);
    const tick = make('line',{x1:cfg.cbRight,x2:cfg.cbRight+4,y1:y,y2:y,stroke:'#222','stroke-width':1.1},g);
    
    
    const lab = make('text',{x:cfg.cbRight+9.5,y:y+7,'font-size':17.5},g);
    
    
    lab.textContent = t.toFixed(cfg.cDigits);
  });
  const cl = make('text',{x:cfg.cbLabelX,y:ymid,'font-size':23.3,'text-anchor':'middle',transform:'rotate(-90 '+cfg.cbLabelX+' '+ymid+')'},g);
  
  
  if(cfg.cLabel==='vsig'){
    addSpan(cl,'V/');
    addSpan(cl,'\u03c3',null,null,'italic');
  } else {
    addSpan(cl,'Age (Gyr)');
  }
}

const topXlim = [10.447,13], botXlim = [10.376,13];
const topYlim = [0.385,1.6], botYlim = [0.3155,1.6];
const vsigLim = [0.15,0.55], ageLim = [6,9];
const agnDense = {coreCount:313,coreRadius:5.6,bandCount:313,bandRadius:3.9};
const noagnDense = {coreCount:117,coreRadius:5.3,bandCount:176,bandRadius:4.5};

drawPanel(Object.assign({id:'agn-vsig',title:'AGN',left:73.3,right:462.7,top:32,bottom:371,xlim:topXlim,ylim:topYlim,xs:agnMass,ys:agnRadius,cs:agnVsig,cmap:spectral,clim:vsigLim,cTicks:vsigTicks,cDigits:2,cbLeft:487,cbRight:504,cbLabelX:576,cLabel:'vsig'},agnDense));
drawPanel(Object.assign({id:'agn-age',title:'AGN',left:687.7,right:1087,top:32,bottom:371,xlim:topXlim,ylim:topYlim,xs:agnMass,ys:agnRadius,cs:agnAge,cmap:jet,clim:ageLim,cTicks:ageTicks,cDigits:1,cbLeft:1112,cbRight:1129,cbLabelX:1189,cLabel:'age'},agnDense));
drawPanel(Object.assign({id:'noagn-vsig',title:'noAGN',left:73.3,right:462.7,top:490,bottom:829,xlim:botXlim,ylim:botYlim,xs:noagnMass,ys:noagnRadius,cs:noagnVsig,cmap:spectral,clim:vsigLim,cTicks:vsigTicks,cDigits:2,cbLeft:487,cbRight:504,cbLabelX:576,cLabel:'vsig'},noagnDense));
drawPanel(Object.assign({id:'noagn-age',title:'noAGN',left:687.7,right:1087,top:490,bottom:829,xlim:botXlim,ylim:botYlim,xs:noagnMass,ys:noagnRadius,cs:noagnAge,cmap:jet,clim:ageLim,cTicks:ageTicks,cDigits:1,cbLeft:1112,cbRight:1129,cbLabelX:1189,cLabel:'age'},noagnDense));
</script>
</body>
</html>
